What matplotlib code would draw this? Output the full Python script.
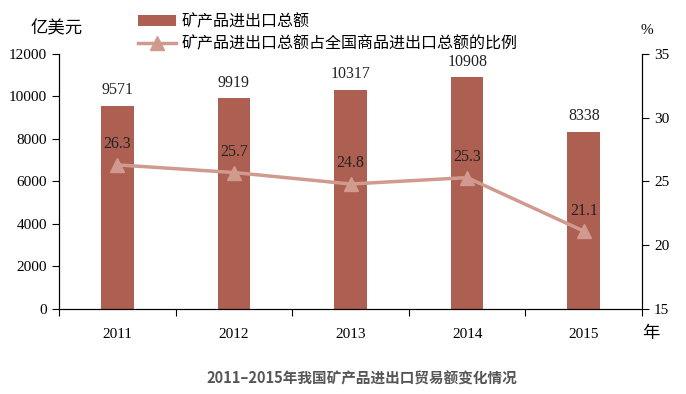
import numpy as np
import matplotlib.pyplot as plt

plt.rcParams['font.family'] = ['Liberation Serif', 'Noto Sans CJK SC']

years = ['2011', '2012', '2013', '2014', '2015']
trade = [9571, 9919, 10317, 10908, 8338]
share = [26.3, 25.7, 24.8, 25.3, 21.1]

bar_color = '#AD5F52'
line_color = '#D09A8F'
cjk = ['Noto Sans CJK SC', 'DejaVu Sans']

fig = plt.figure(figsize=(6.86, 3.94), dpi=100)
ax = fig.add_axes([0.086, 0.216, 0.850, 0.647])
x = np.arange(len(years))

bars = ax.bar(x, trade, width=0.28, color=bar_color, label='矿产品进出口总额', zorder=2)
for xi, v in zip(x, trade):
    ax.text(xi, v + 350, str(v), ha='center', va='bottom', fontsize=11.5, color='#222222')

ax.set_xlim(-0.5, len(years) - 0.5)
ax.set_ylim(0, 12000)
ax.set_yticks(np.arange(0, 12001, 2000))
ax.set_xticks(np.arange(-0.5, len(years), 1.0))
ax.set_xticklabels([])
ax.set_xticks(x, minor=True)
ax.set_xticklabels(years, minor=True)
ax.tick_params(axis='x', which='minor', length=0, pad=14, labelsize=11)
ax.tick_params(axis='x', which='major', length=5, direction='out')
ax.tick_params(axis='y', length=5, direction='out', labelsize=11)
ax.spines['top'].set_visible(False)

ax2 = ax.twinx()
line, = ax2.plot(x, share, color=line_color, lw=2.5, marker='^', markersize=10,
                 label='矿产品进出口总额占全国商品进出口总额的比例', zorder=3)
for xi, v in zip(x, share):
    ax2.annotate(f'{v}', (xi, v), xytext=(0, 9), textcoords='offset points',
                 ha='center', va='bottom', fontsize=11.5, color='#222222')
ax2.set_ylim(15, 35)
ax2.set_yticks(np.arange(15, 36, 5))
ax2.tick_params(axis='y', length=5, direction='out', labelsize=11)
ax2.spines['top'].set_visible(False)

fig.text(0.045, 0.905, '亿美元', family=cjk, fontsize=12.5, ha='left', va='bottom')
fig.text(0.943, 0.905, '%', fontsize=11, ha='center', va='bottom')
fig.text(0.948, 0.155, '年', family=cjk, fontsize=12.5, ha='center', va='center')

leg = fig.legend(handles=[bars, line], loc='upper left', bbox_to_anchor=(0.185, 0.995),
                 frameon=False, prop={'family': cjk, 'size': 11.5},
                 handlelength=2.4, handletextpad=0.35, labelspacing=0.35, borderaxespad=0.3)

fig.text(0.527, 0.04, '2011–2015年我国矿产品进出口贸易额变化情况', family=cjk,
         fontsize=10.5, fontweight='bold', color='#555555', ha='center', va='center')

fig.savefig('out.png', dpi=100)
